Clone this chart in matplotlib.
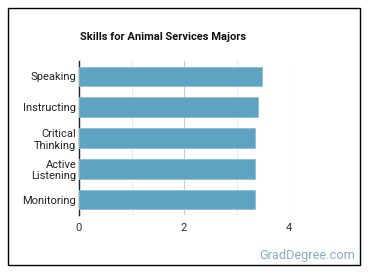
import matplotlib.pyplot as plt
from matplotlib.patches import Rectangle

skills = ['Speaking', 'Instructing', 'Critical\nThinking', 'Active\nListening', 'Monitoring']
scores = [3.49, 3.41, 3.36, 3.36, 3.36]

W, H = 370, 278
plt.rcParams['font.family'] = ['Roboto', 'DejaVu Sans']

fig = plt.figure(figsize=(W / 100, H / 100), dpi=100)

# frame around the whole card
fig.patches.append(Rectangle((8 / W, 1 - 265 / H), 352 / W, 257 / H, transform=fig.transFigure,
                             fill=False, edgecolor='black', linewidth=1.0))

ax = fig.add_axes([79 / W, 1 - 215 / H, 210 / W, 154 / H])
ypos = list(range(len(skills)))
ax.barh(ypos, scores, height=0.63, color='#5ea3c1', edgecolor='#8cc0d6', linewidth=0.6, zorder=3)
ax.set_ylim(len(skills) - 0.5, -0.5)
ax.set_xlim(0, 4)
ax.set_yticks(ypos)
ax.set_yticklabels(skills, fontsize=8.0, color='#222222', linespacing=1.2)
ax.set_xticks([0, 2, 4])
ax.set_xticklabels(['0', '2', '4'], fontsize=8.0, color='#333333')
ax.set_xticks([1, 3], minor=True)
ax.grid(axis='x', which='major', color='#cccccc', linewidth=0.8, zorder=0)
ax.grid(axis='x', which='minor', color='#ebebeb', linewidth=0.8, zorder=0)
ax.tick_params(axis='both', which='both', length=0)
ax.tick_params(axis='y', pad=2)
ax.tick_params(axis='x', pad=6)
for side in ['top', 'right', 'bottom']:
    ax.spines[side].set_visible(False)
ax.spines['left'].set_color('#222222')
ax.spines['left'].set_linewidth(1.0)

fig.text(163 / W, 1 - 37 / H, 'Skills for Animal Services Majors', ha='center', va='center',
         fontsize=8, fontweight='bold', color='#111111')
fig.text(355 / W, 1 - 255 / H, 'GradDegree.com', ha='right', va='center',
         fontsize=9.2, color='#8aaec4')

fig.savefig('out.png', dpi=100)
